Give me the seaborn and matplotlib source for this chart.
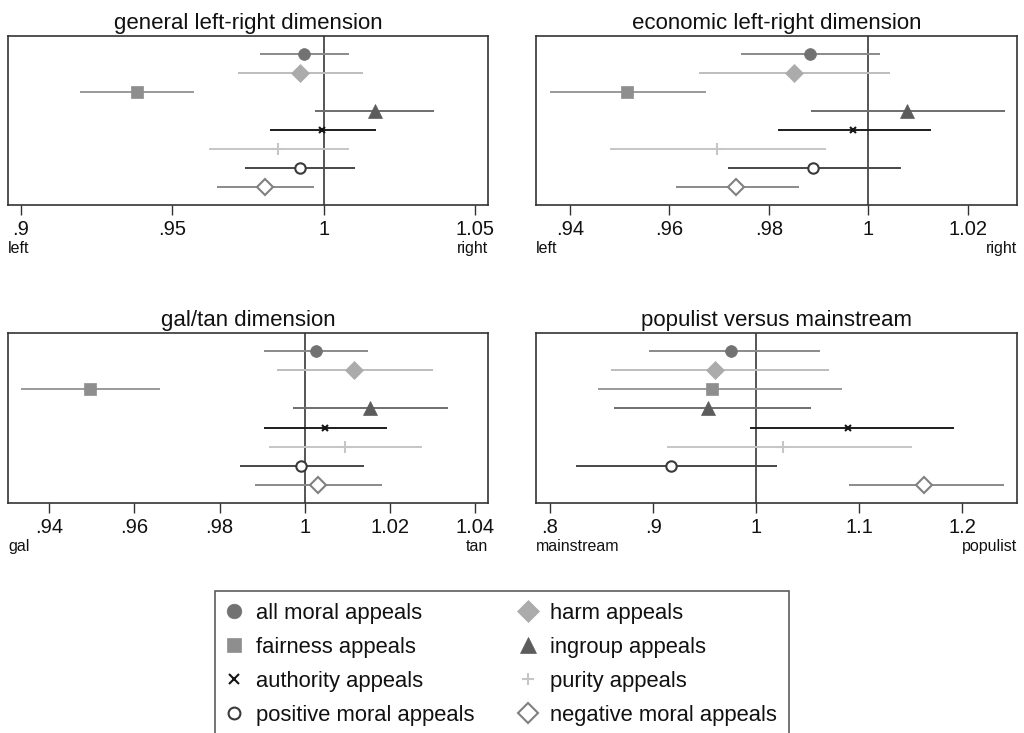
import numpy as np
import pandas as pd
import seaborn as sns
import matplotlib.pyplot as plt
from matplotlib.lines import Line2D

sns.set_theme(style="white")
plt.rcParams['font.family'] = ['Liberation Sans', 'DejaVu Sans']

# series, top to bottom within each panel
series = ["all moral appeals", "harm appeals", "fairness appeals", "ingroup appeals",
          "authority appeals", "purity appeals", "positive moral appeals", "negative moral appeals"]

panels = ["general left-right dimension", "economic left-right dimension",
          "gal/tan dimension", "populist versus mainstream"]

# point estimates and 95% CI bounds, per panel
est_general = [0.9935, 0.9921, 0.9382, 1.0168, 0.9994, 0.9849, 0.9921, 0.9805]
lo_general = [0.9791, 0.9717, 0.9195, 0.9971, 0.9824, 0.9620, 0.9739, 0.9646]
hi_general = [1.0084, 1.0130, 0.9572, 1.0366, 1.0174, 1.0084, 1.0105, 0.9968]

est_econ = [0.9883, 0.9850, 0.9515, 1.0078, 0.9970, 0.9695, 0.9889, 0.9734]
lo_econ = [0.9744, 0.9660, 0.9360, 0.9885, 0.9819, 0.9481, 0.9717, 0.9613]
hi_econ = [1.0024, 1.0043, 0.9674, 1.0274, 1.0126, 0.9916, 1.0066, 0.9860]

est_galtan = [1.0026, 1.0116, 0.9495, 1.0153, 1.0048, 1.0095, 0.9992, 1.0032]
lo_galtan = [0.9903, 0.9934, 0.9334, 0.9973, 0.9903, 0.9916, 0.9848, 0.9882]
hi_galtan = [1.0148, 1.0302, 0.9660, 1.0337, 1.0192, 1.0276, 1.0140, 1.0182]

est_pop = [0.9757, 0.9602, 0.9573, 0.9531, 1.0887, 1.0256, 0.9175, 1.1631]
lo_pop = [0.8964, 0.8592, 0.8463, 0.8621, 0.9942, 0.9136, 0.8249, 1.0903]
hi_pop = [1.0621, 1.0709, 1.0832, 1.0534, 1.1916, 1.1511, 1.0204, 1.2408]

ticks = [[0.9, 0.95, 1, 1.05], [0.94, 0.96, 0.98, 1, 1.02],
         [0.94, 0.96, 0.98, 1, 1.02, 1.04], [0.8, 0.9, 1, 1.1, 1.2]]
ticklabels = [[".9", ".95", "1", "1.05"], [".94", ".96", ".98", "1", "1.02"],
              [".94", ".96", ".98", "1", "1.02", "1.04"], [".8", ".9", "1", "1.1", "1.2"]]
end_labels = [("left", "right"), ("left", "right"), ("gal", "tan"), ("mainstream", "populist")]
xlims = [(0.8957, 1.0543), (0.9332, 1.0299), (0.9303, 1.0430), (0.7864, 1.2531)]

rows = []
for p, (e, l, h) in zip(panels, [(est_general, lo_general, hi_general), (est_econ, lo_econ, hi_econ),
                                 (est_galtan, lo_galtan, hi_galtan), (est_pop, lo_pop, hi_pop)]):
    for i, s in enumerate(series):
        rows.append({"panel": p, "series": s, "pos": i + 1, "est": e[i], "lo": l[i], "hi": h[i]})
df = pd.DataFrame(rows)

# marker styles: (marker, marker color, line color, filled, size in plot, size in legend)
styles = {
    "all moral appeals": ("o", "#727272", "#8a8a8a", True, 8.5, 10.5),
    "harm appeals": ("D", "#ababab", "#bdbdbd", True, 9, 11.5),
    "fairness appeals": ("s", "#8e8e8e", "#9a9a9a", True, 8, 10),
    "ingroup appeals": ("^", "#5c5c5c", "#6e6e6e", True, 10, 12),
    "authority appeals": ("x", "#151515", "#1c1c1c", True, 5, 6.5),
    "purity appeals": ("+", "#c6c6c6", "#c6c6c6", True, 8, 9),
    "positive moral appeals": ("o", "#3a3a3a", "#474747", False, 7.5, 8.5),
    "negative moral appeals": ("D", "#808080", "#8a8a8a", False, 8, 10.5),
}

W, H = 1024, 733
fig = plt.figure(figsize=(W / 100, H / 100), dpi=100)
boxes = [(8, 36, 488, 205), (536, 36, 1017, 205), (8, 333, 488, 503), (536, 333, 1017, 503)]

for k, p in enumerate(panels):
    x0, y0, x1, y1 = boxes[k]
    ax = fig.add_axes([x0 / W, 1 - y1 / H, (x1 - x0) / W, (y1 - y0) / H])
    d = df[df.panel == p]
    ax.axvline(1, color="#555555", lw=1.4, zorder=1)
    for _, r in d.iterrows():
        m, mc, lc, filled, ms, _ = styles[r.series]
        ax.hlines(r.pos, r.lo, r.hi, color=lc, lw=1.4, zorder=2)
        ax.plot(r.est, r.pos, marker=m, ms=ms, color=mc,
                mfc=mc if filled else "white", mec=mc,
                mew=1.5 if not filled else (1.5 if m in "x+" else 0.5), zorder=3, ls="none")
    ax.set_ylim(8.95, 0.05)
    ax.set_xlim(*xlims[k])
    ax.set_yticks([])
    ax.set_xticks(ticks[k])
    ax.set_xticklabels(ticklabels[k], fontsize=14.5)
    ax.tick_params(axis="x", bottom=True, length=7, width=1, color="#333333", pad=3.5, labelcolor="#111111")
    for sp in ax.spines.values():
        sp.set_color("#333333")
        sp.set_linewidth(1.2)
    ax.set_title(p, fontsize=16, color="#111111", pad=5)
    ax.annotate(end_labels[k][0], xy=(0, 0), xycoords="axes fraction", xytext=(0, -36),
                textcoords="offset pixels", ha="left", va="top", fontsize=11.5, color="#111111")
    ax.annotate(end_labels[k][1], xy=(1, 0), xycoords="axes fraction", xytext=(0, -36),
                textcoords="offset pixels", ha="right", va="top", fontsize=11.5, color="#111111")

# legend in two columns, filled column-wise
order = ["all moral appeals", "fairness appeals", "authority appeals", "positive moral appeals",
         "harm appeals", "ingroup appeals", "purity appeals", "negative moral appeals"]
handles = []
for s in order:
    m, mc, lc, filled, _, lms = styles[s]
    handles.append(Line2D([], [], ls="none", marker=m, ms=lms, color=mc,
                          mfc=mc if filled else "white", mec=mc, mew=1.5 if (not filled or m in "x+") else 0.5,
                          label=s))
leg = fig.legend(handles=handles, loc="upper left", bbox_to_anchor=(215 / W, 1 - 591 / H), ncol=2,
                 frameon=True, fancybox=False, fontsize=15.8, handlelength=0.6, handletextpad=0.7,
                 columnspacing=2.15, labelspacing=0.59, borderpad=0.55, borderaxespad=0)
leg.get_frame().set_edgecolor("#333333")
leg.get_frame().set_linewidth(1.2)
for t in leg.get_texts():
    t.set_color("#111111")

fig.savefig("out.png", dpi=100)
